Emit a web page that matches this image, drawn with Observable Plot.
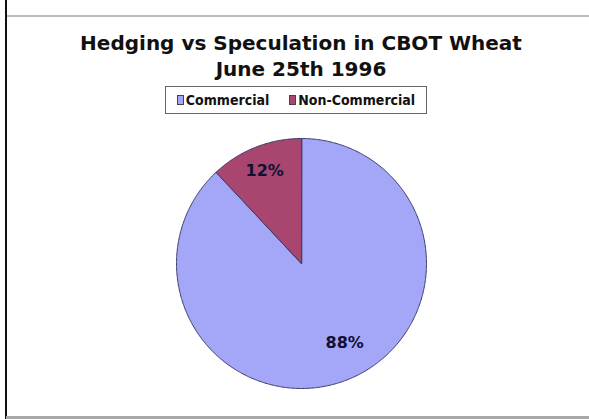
<!DOCTYPE html>
<html>
<head>
<meta charset="utf-8">
<script src="https://cdn.jsdelivr.net/npm/d3@7"></script>
<script src="https://cdn.jsdelivr.net/npm/@observablehq/plot@0.6"></script>
<style>
  html, body { margin: 0; padding: 0; background: #fff; }
  #page { position: relative; width: 589px; height: 419px; overflow: hidden; background: #fff; font-family: "DejaVu Sans", Verdana, sans-serif; }
  #lineTop { position: absolute; left: 6px; top: 15px; width: 583px; height: 2px; background: #bdbdbd; }
  #lineBottom { position: absolute; left: 6px; top: 416px; width: 583px; height: 3px; background: #a8a8a8; }
  #lineLeft { position: absolute; left: 5px; top: 0; width: 2px; height: 419px; background: #111; }
  #title { position: absolute; left: 0; width: 602px; top: 30px; text-align: center; font-weight: bold; font-size: 20px; line-height: 26px; color: #111; }
  #legend { position: absolute; left: 165px; top: 86px; width: 262px; height: 28px; border: 1px solid #666; box-sizing: border-box; display: flex; justify-content: center; align-items: center; gap: 20px; font-family: "DejaVu Sans Condensed", "DejaVu Sans", sans-serif; font-weight: bold; font-size: 14px; color: #111; }
  #legend .item { display: flex; align-items: center; }
  #legend .sw { width: 5px; height: 8px; margin-right: 2px; border: 1px solid #444; }
  #chart { position: absolute; left: 174px; top: 136px; }
</style>
</head>
<body>
<div id="page">
  <div id="lineTop"></div>
  <div id="lineLeft"></div>
  <div id="lineBottom"></div>
  <div id="title">Hedging vs Speculation in CBOT Wheat<br>June 25th 1996</div>
  <div id="legend"></div>
  <div id="chart"></div>
</div>
<script>
const categories = ["Commercial", "Non-Commercial"];
const values = [88, 12];
const labels = ["88%", "12%"];
const colors = ["#a4a7f8", "#a8466f"];
const labelRadius = [0.70, 0.8];

// legend
const legend = document.getElementById("legend");
categories.forEach((c, i) => {
  const it = document.createElement("span");
  it.className = "item";
  const sw = document.createElement("span");
  sw.className = "sw";
  sw.style.background = colors[i];
  it.appendChild(sw);
  it.appendChild(document.createTextNode(c));
  legend.appendChild(it);
});

// pie geometry from data (angles clockwise from 12 o'clock)
const arcs = d3.pie().sort(null)(values);
const slices = arcs.map((a, i) => {
  const n = Math.max(2, Math.ceil((a.endAngle - a.startAngle) / 0.01));
  const ring = [[0, 0]];
  for (let k = 0; k <= n; k++) {
    const t = a.startAngle + (a.endAngle - a.startAngle) * k / n;
    ring.push([Math.sin(t), Math.cos(t)]);
  }
  ring.push([0, 0]);
  return {type: "Feature", properties: {name: categories[i]}, geometry: {type: "Polygon", coordinates: [ring]}};
});
const labelData = arcs.map((a, i) => {
  const m = (a.startAngle + a.endAngle) / 2;
  return {name: categories[i], label: labels[i], x: labelRadius[i] * Math.sin(m), y: labelRadius[i] * Math.cos(m)};
});

const textStyle = {x: "x", y: "y", text: "label", fontSize: 16, fontWeight: "bold", fill: "#111133", fontFamily: "DejaVu Sans, sans-serif"};

const chart = Plot.plot({
  width: 254,
  height: 254,
  margin: 0,
  projection: {type: "reflect-y", domain: {type: "MultiPoint", coordinates: [[-1, -1], [1, 1]]}, inset: 2},
  color: {domain: categories, range: colors},
  marks: [
    Plot.geo(slices, {fill: d => d.properties.name, stroke: "#3a3a6a", strokeWidth: 1}),
    Plot.text(labelData.filter(d => d.name === "Commercial"), {...textStyle, dx: 11, dy: -2}),
    Plot.text(labelData.filter(d => d.name !== "Commercial"), {...textStyle})
  ]
});
document.getElementById("chart").appendChild(chart);
</script>
</body>
</html>
